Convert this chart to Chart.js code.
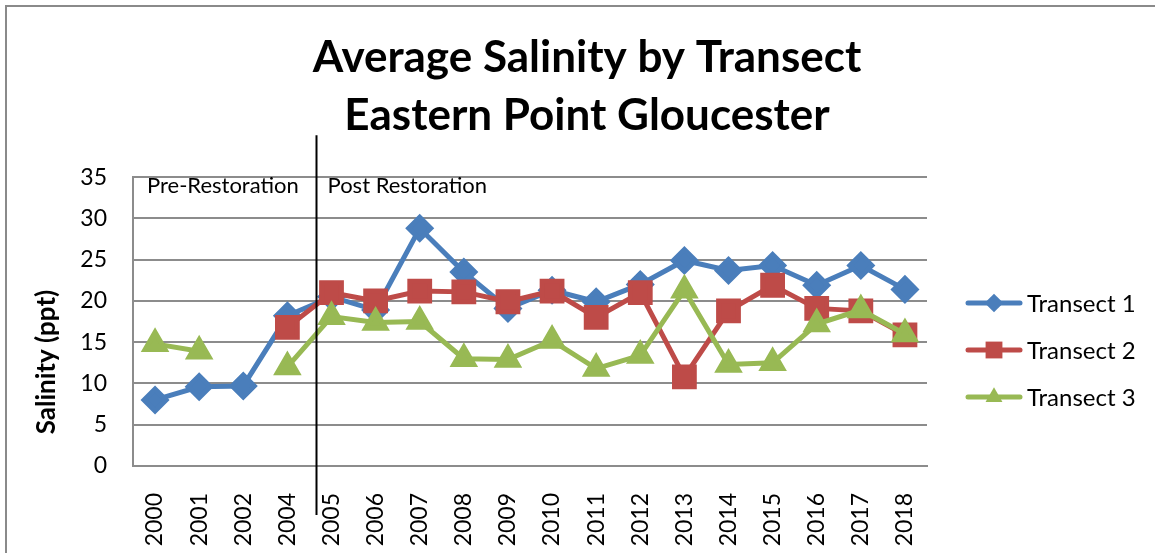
<!DOCTYPE html>
<html>
<head>
<meta charset="utf-8">
<script src="https://cdn.jsdelivr.net/npm/chart.js@4/dist/chart.umd.min.js"></script>
<style>
  body { margin: 0; background: #fff; }
  .chart-box { position: relative; width: 1155px; height: 553px; }
</style>
</head>
<body>
<div class="chart-box"><canvas id="salinity"></canvas></div>
<script>
// years sampled (no 2003)
const years = ['2000', '2001', '2002', '2004', '2005', '2006', '2007', '2008', '2009',
  '2010', '2011', '2012', '2013', '2014', '2015', '2016', '2017', '2018'];
const transect1 = [8.0, 9.6, 9.7, 18.2, 20.5, 18.9, 28.8, 23.5, 19.1, 21.3, 19.9, 22.0, 24.9, 23.7, 24.3, 21.9, 24.3, 21.4];
const transect2 = [null, null, null, 16.8, 21.0, 20.0, 21.2, 21.1, 19.9, 21.2, 18.0, 21.0, 10.8, 18.8, 21.9, 19.1, 18.8, 15.9];
const transect3 = [14.8, 13.9, null, 12.0, 18.1, 17.4, 17.5, 13.0, 12.9, 15.2, 11.8, 13.4, 21.3, 12.3, 12.5, 17.2, 18.9, 16.0];
const yTicks = [0, 5, 10, 15, 20, 25, 30, 35];
const periods = ['Pre-Restoration', 'Post Restoration'];
const yTitle = 'Salinity (ppt)';

const FONT = 'Lato, "Noto Sans", sans-serif';
const GRID = '#8c8c8c';

// border, y title, restoration divider, period labels and the legend
const overlay = {
  id: 'overlay',
  beforeDraw(chart) {
    const ctx = chart.ctx;
    ctx.save();
    ctx.strokeStyle = '#8a8a8a';
    ctx.lineWidth = 2;
    ctx.beginPath();
    ctx.moveTo(6, chart.height);
    ctx.lineTo(6, 6);
    ctx.lineTo(chart.width, 6);
    ctx.stroke();

    // axis title sits lower than the axis middle in the original
    ctx.translate(47, 362);
    ctx.rotate(-Math.PI / 2);
    ctx.fillStyle = '#000';
    ctx.font = 'bold 26px ' + FONT;
    ctx.textAlign = 'center';
    ctx.textBaseline = 'middle';
    ctx.fillText(yTitle, 0, 0);
    ctx.restore();
  },
  afterDatasetsDraw(chart) {
    const ctx = chart.ctx;
    const area = chart.chartArea;
    const x = chart.scales.x;
    const divX = Math.round(x.getPixelForValue(3.65)) + 0.5;

    ctx.save();
    ctx.strokeStyle = '#000';
    ctx.lineWidth = 2;
    ctx.beginPath();
    ctx.moveTo(divX, area.top - 42);
    ctx.lineTo(divX, area.bottom + 49);
    ctx.stroke();

    ctx.fillStyle = '#000';
    ctx.font = '22px ' + FONT;
    ctx.textBaseline = 'middle';
    ctx.textAlign = 'left';
    ctx.fillText(periods[0], area.left + 14, area.top + 9);
    ctx.fillText(periods[1], divX + 11, area.top + 9);

    // legend: line with marker, then label
    chart.data.datasets.forEach((ds, i) => {
      const y = 303 + i * 47;
      ctx.strokeStyle = ds.borderColor;
      ctx.lineWidth = 5;
      ctx.lineCap = 'round';
      ctx.beginPath();
      ctx.moveTo(968, y);
      ctx.lineTo(1020, y);
      ctx.stroke();
      ctx.fillStyle = ds.borderColor;
      Chart.helpers.drawPoint(ctx, {
        pointStyle: ds.pointStyle, radius: ds.pointRadius * 0.85, rotation: 0, borderWidth: 0
      }, 994, y);
      ctx.fillStyle = '#000';
      ctx.font = '24px ' + FONT;
      ctx.fillText(ds.label, 1027, y + 1);
    });
    ctx.restore();
  }
};

new Chart(document.getElementById('salinity'), {
  type: 'line',
  data: {
    labels: years,
    datasets: [
      {
        label: 'Transect 1',
        data: transect1,
        order: 3,
        borderColor: '#4a7ebb',
        backgroundColor: '#4a7ebb',
        pointBackgroundColor: '#4a7ebb',
        pointBorderColor: '#4a7ebb',
        pointStyle: 'rectRot',
        pointRadius: 11,
        borderWidth: 5,
      },
      {
        label: 'Transect 2',
        data: transect2,
        order: 2,
        borderColor: '#be4b48',
        backgroundColor: '#be4b48',
        pointBackgroundColor: '#be4b48',
        pointBorderColor: '#be4b48',
        pointStyle: 'rect',
        pointRadius: 14,
        borderWidth: 5,
      },
      {
        label: 'Transect 3',
        data: transect3,
        order: 1,
        borderColor: '#98b954',
        backgroundColor: '#98b954',
        pointBackgroundColor: '#98b954',
        pointBorderColor: '#98b954',
        pointStyle: 'triangle',
        pointRadius: 11.5,
        borderWidth: 5,
      },
    ],
  },
  options: {
    responsive: true,
    maintainAspectRatio: false,
    animation: false,
    layout: { padding: { left: 19, right: 0, top: 0, bottom: 0 } },
    elements: { line: { tension: 0 }, point: { borderWidth: 1 } },
    plugins: {
      legend: { display: false },
      tooltip: { enabled: false },
      title: {
        display: true,
        text: ['Average Salinity by Transect', 'Eastern Point Gloucester'],
        color: '#000',
        font: { family: FONT, size: 44, weight: 'bold', lineHeight: 1.32 },
        padding: { top: 29, bottom: 32 },
      },
    },
    scales: {
      x: {
        offset: true,
        grid: { display: false },
        border: { display: true, color: GRID, width: 2 },
        afterFit: (axis) => { axis.height = 87; },
        ticks: {
          color: '#000',
          font: { family: FONT, size: 23 },
          minRotation: 90,
          maxRotation: 90,
          padding: 19,
          autoSkip: false,
        },
      },
      y: {
        min: 0,
        max: 35,
        afterFit: (axis) => { axis.width = 114; },
        afterBuildTicks: (axis) => { axis.ticks = yTicks.map(v => ({ value: v })); },
        grid: { color: GRID, lineWidth: 2, drawTicks: false },
        border: { display: true, color: GRID, width: 2 },
        ticks: {
          color: '#000',
          font: { family: FONT, size: 23 },
          padding: 26,
        },
      },
      // empty axis that keeps the space for the legend on the right
      legendSpace: {
        type: 'linear',
        position: 'right',
        grid: { display: false },
        border: { display: false },
        ticks: { display: false },
        afterFit: (axis) => { axis.width = 228; },
      },
    },
  },
  plugins: [overlay],
});
</script>
</body>
</html>
